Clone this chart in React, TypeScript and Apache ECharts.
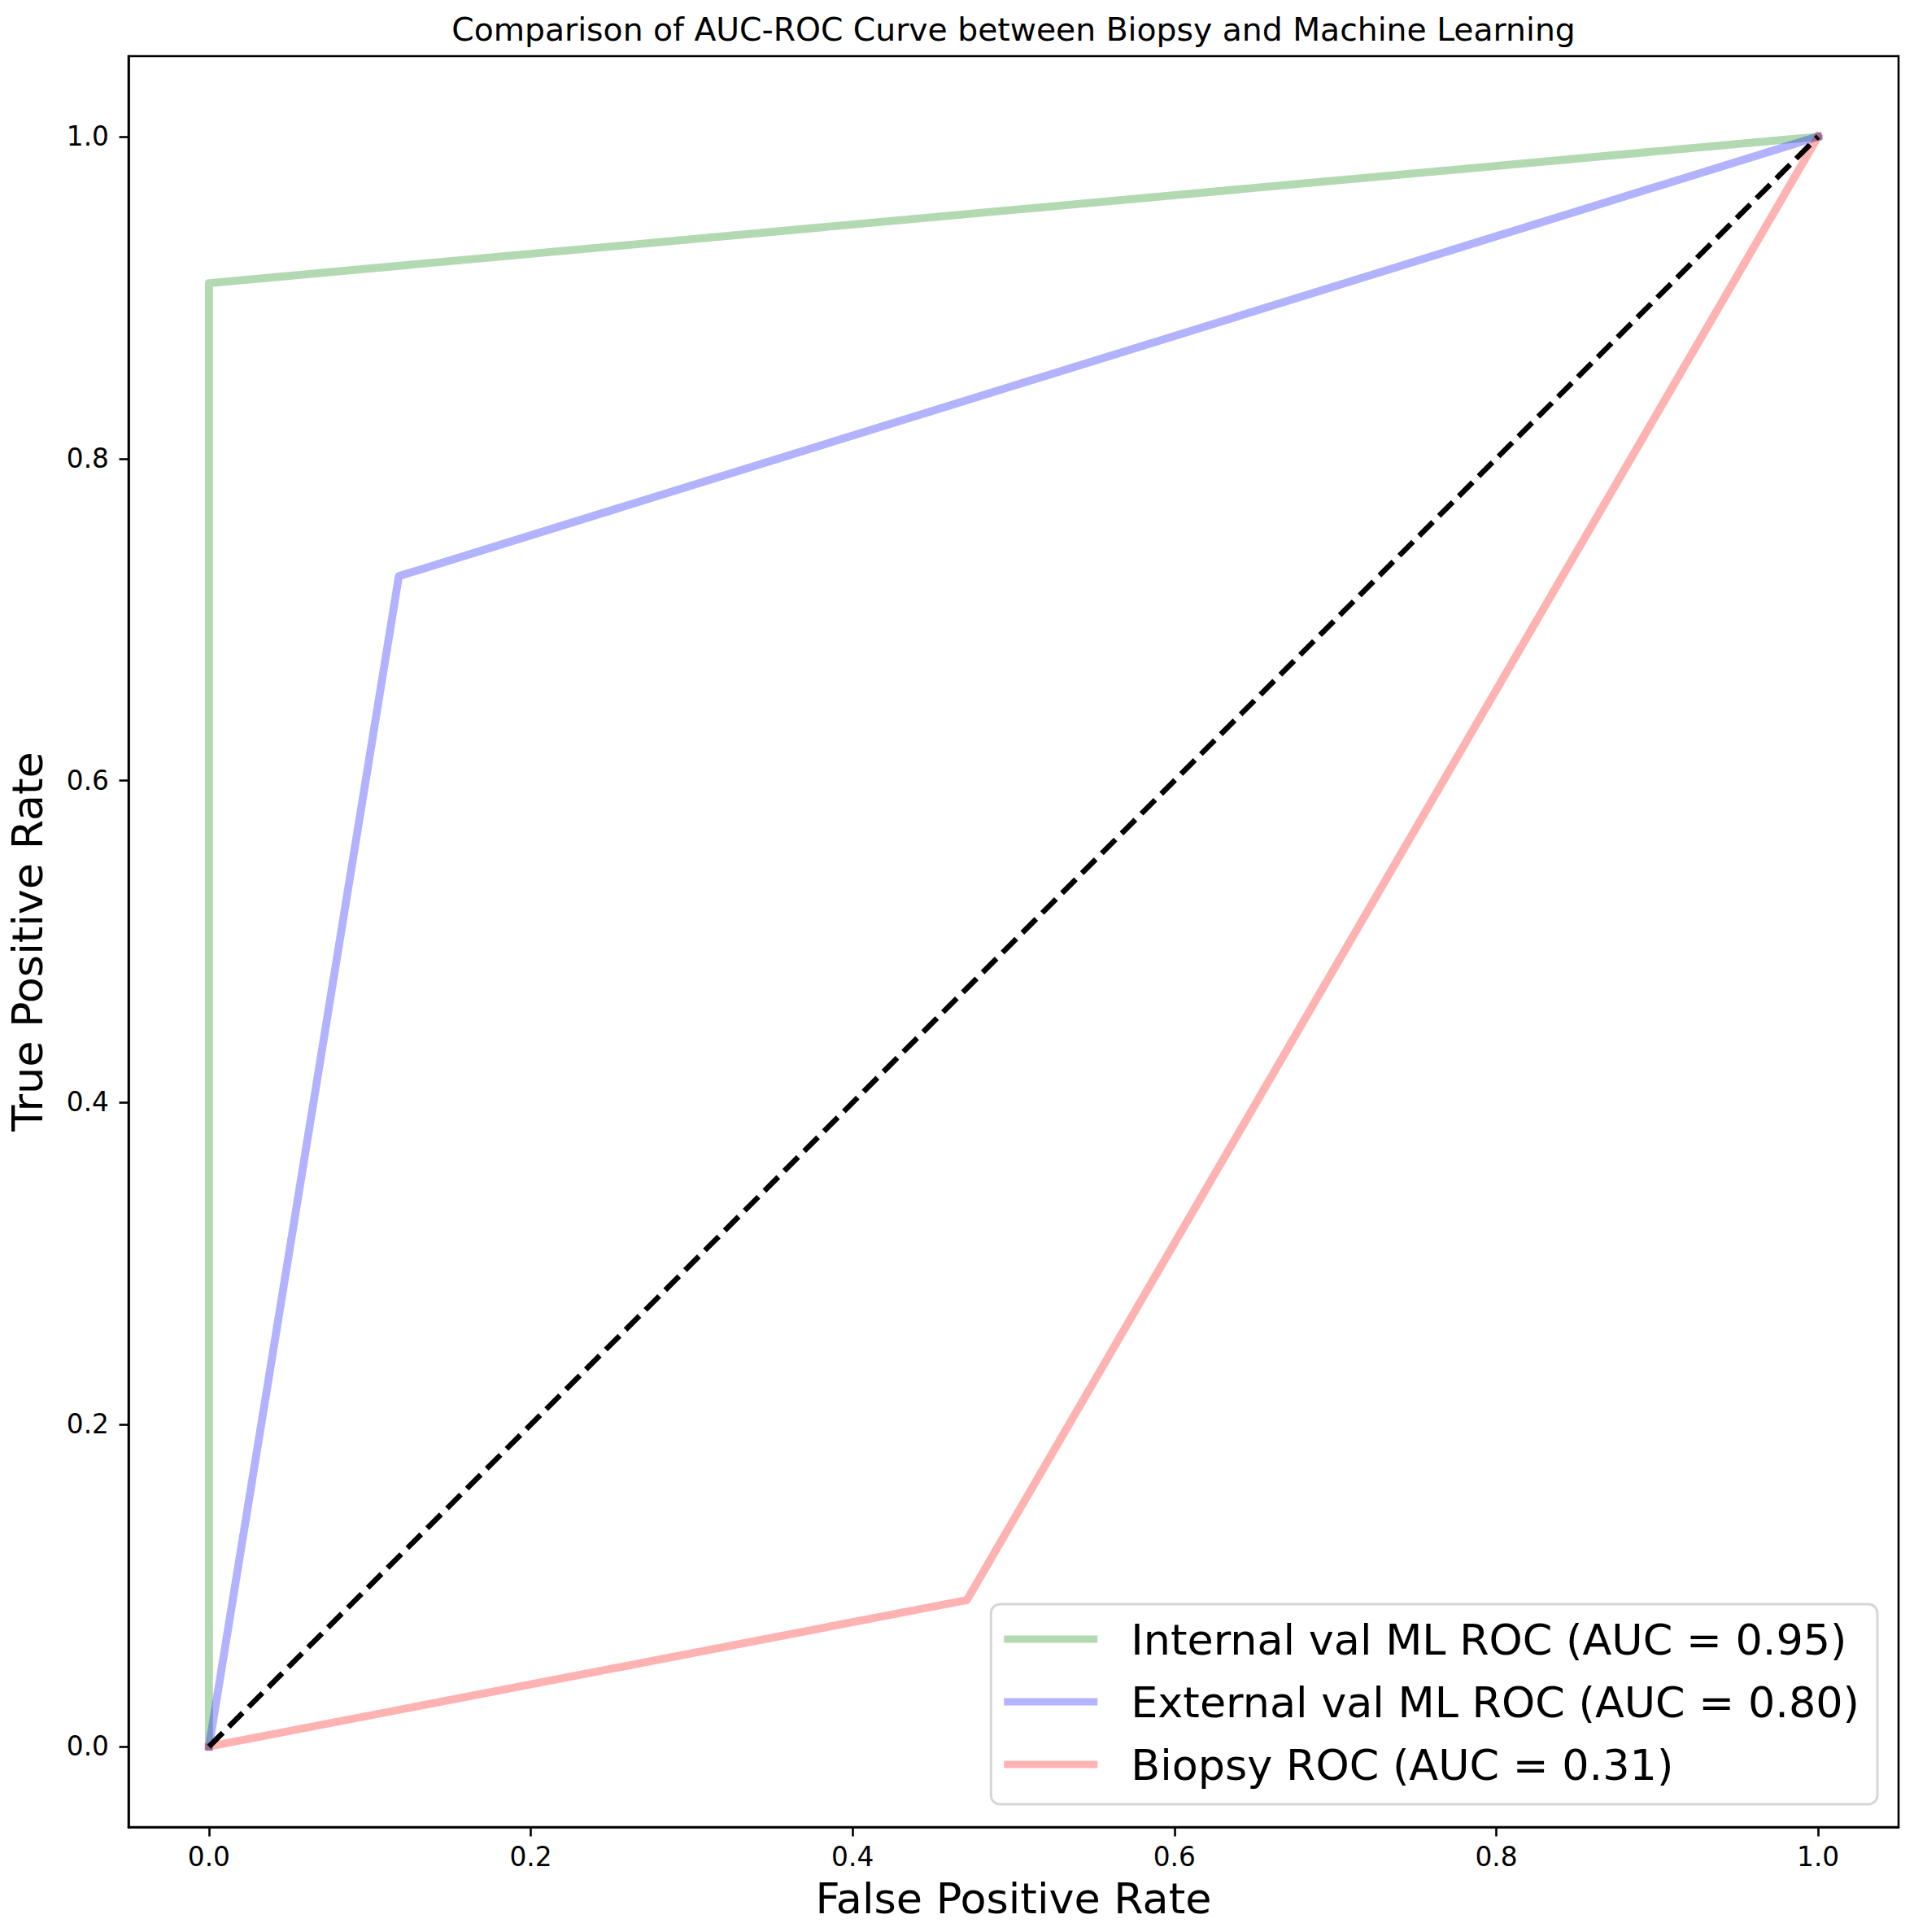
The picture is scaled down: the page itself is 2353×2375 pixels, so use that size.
import React, { useRef, useEffect } from "react";
import * as echarts from "echarts";

// ROC points
const internalFpr = [0, 0, 1];
const internalTpr = [0, 0.909, 1];
const externalFpr = [0, 0.118, 1];
const externalTpr = [0, 0.727, 1];
const biopsyFpr = [0, 0.471, 1];
const biopsyTpr = [0, 0.091, 1];
const chanceLine = [0, 1];

const seriesNames = [
  "Internal val ML ROC (AUC = 0.95)",
  "External val ML ROC (AUC = 0.80)",
  "Biopsy ROC (AUC = 0.31)",
];
const tickValues = [0, 0.2, 0.4, 0.6, 0.8, 1.0];

const FONT = "DejaVu Sans";

const toPairs = (xs: number[], ys: number[]) => xs.map((x, i) => [x, ys[i]]);

const RocChart = function () {
  const chart = useRef<HTMLDivElement>(null);

  useEffect(() => {
    if (!chart.current) return;
    const myChart = echarts.init(chart.current, null, { renderer: "svg" });

    const colors = ["rgba(0,128,0,0.3)", "rgba(0,0,255,0.3)", "rgba(255,0,0,0.3)"];
    const legendColors = ["#b3d9b3", "#b3b3ff", "#ffb3b3"];
    const rocData = [
      toPairs(internalFpr, internalTpr),
      toPairs(externalFpr, externalTpr),
      toPairs(biopsyFpr, biopsyTpr),
    ];

    const axisCommon = {
      type: "value",
      min: -0.05,
      max: 1.05,
      splitLine: { show: false },
      axisLine: { show: true, onZero: false, lineStyle: { color: "#000", width: 2.6 } },
      axisTick: {
        show: true,
        length: 11.5,
        customValues: tickValues,
        lineStyle: { color: "#000", width: 2.6 },
      },
      nameLocation: "middle",
      nameTextStyle: { fontFamily: FONT, fontSize: 52.4, color: "#000" },
    };

    const option = {
      animation: false,
      textStyle: { fontFamily: FONT },
      grid: {
        left: 158,
        right: 19,
        top: 69,
        bottom: 129,
        show: true,
        borderColor: "#000",
        borderWidth: 2.6,
        backgroundColor: "#fff",
        outerBoundsMode: "none",
      },
      graphic: [
        {
          type: "text",
          x: 1246,
          y: 36,
          style: {
            text: "Comparison of AUC-ROC Curve between Biopsy and Machine Learning",
            font: `39.3px "${FONT}"`,
            fill: "#000",
            align: "center",
            verticalAlign: "middle",
          },
        },
      ],
      legend: {
        orient: "vertical",
        right: 45,
        bottom: 157,
        padding: [15, 22, 21, 16],
        itemWidth: 115,
        itemHeight: 9,
        itemGap: 21,
        selectedMode: false,
        backgroundColor: "rgba(255,255,255,0.8)",
        borderColor: "#d6d6d6",
        borderWidth: 3,
        borderRadius: 11,
        textStyle: {
          fontFamily: FONT,
          fontSize: 52.4,
          lineHeight: 56,
          color: "#000",
          padding: [0, 0, 0, 36],
        },
        data: seriesNames.map((name, i) => ({
          name,
          icon: "rect",
          itemStyle: { color: legendColors[i], borderWidth: 0 },
        })),
      },
      xAxis: {
        ...axisCommon,
        name: "False Positive Rate",
        nameGap: 61,
        axisLabel: {
          margin: 20,
          fontSize: 32.8,
          color: "#000",
          fontFamily: FONT,
          customValues: tickValues,
          formatter: (v: number) => v.toFixed(1),
        },
      },
      yAxis: {
        ...axisCommon,
        name: "True Positive Rate",
        nameGap: 99,
        axisLabel: {
          margin: 24,
          fontSize: 32.8,
          color: "#000",
          fontFamily: FONT,
          customValues: tickValues,
          formatter: (v: number) => v.toFixed(1),
        },
      },
      series: [
        ...rocData.map((data, i) => ({
          name: seriesNames[i],
          type: "line",
          data,
          showSymbol: false,
          itemStyle: { color: colors[i] },
          lineStyle: { color: colors[i], width: 9.8, cap: "square", join: "round" },
        })),
        {
          name: "chance",
          type: "line",
          data: toPairs(chanceLine, chanceLine),
          showSymbol: false,
          itemStyle: { color: "#000" },
          lineStyle: { color: "#000", width: 6.6, type: [24, 10.5], cap: "butt" },
        },
      ],
    };
    myChart.setOption(option as any);

    return () => {
      myChart.dispose();
    };
  }, []);

  return (
    <div
      ref={chart}
      style={{ position: "absolute", left: 0, top: 0, width: 2353, height: 2375, background: "#fff" }}
    ></div>
  );
};

export default function App() {
  return <RocChart />;
}
